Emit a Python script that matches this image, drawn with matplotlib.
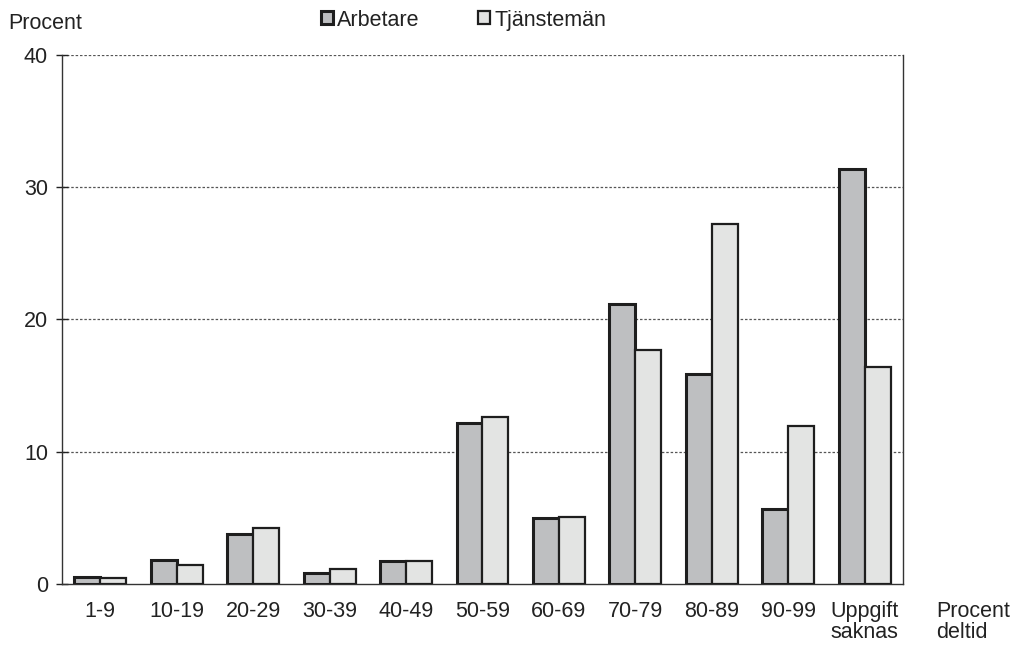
import numpy as np
import matplotlib
matplotlib.use("Agg")
import matplotlib.pyplot as plt

plt.rcParams['font.family'] = ['Liberation Sans', 'DejaVu Sans']

categories = ["1-9", "10-19", "20-29", "30-39", "40-49", "50-59",
              "60-69", "70-79", "80-89", "90-99", "Uppgift\nsaknas"]
arbetare = [0.55, 1.8, 3.8, 0.8, 1.7, 12.2, 5.0, 21.2, 15.9, 5.7, 31.4]
tjansteman = [0.45, 1.4, 4.2, 1.1, 1.7, 12.6, 5.1, 17.7, 27.2, 11.95, 16.4]
yticks = [0, 10, 20, 30, 40]

FS = 15.5
TXT = "#222222"

fig = plt.figure(figsize=(10.11, 6.46), dpi=100)
ax = fig.add_axes([0.0613, 0.096, 0.8319, 0.819])

x = np.arange(len(categories))
w = 0.34
ax.bar(x - w / 2, arbetare, w, color="#bebfc1", edgecolor="#1e1e1e",
       linewidth=2.2, label="Arbetare", zorder=3)
ax.bar(x + w / 2, tjansteman, w, color="#e3e4e3", edgecolor="#1e1e1e",
       linewidth=1.6, label="Tjänstemän", zorder=3)

ax.set_xlim(-0.5, 10.5)
ax.set_ylim(0, 40)
ax.set_yticks(yticks)
ax.set_xticks(x)
ax.set_xticklabels(categories, fontsize=FS, color=TXT, linespacing=1.0)
ax.tick_params(axis="x", length=0, pad=12)
ax.tick_params(axis="y", direction="inout", length=8, width=1, labelsize=FS,
               colors=TXT, pad=6)

for v in yticks[1:]:
    ax.axhline(v, color="#555555", linestyle=(0, (2, 1.5)), linewidth=0.9, zorder=1)

ax.spines["top"].set_visible(False)
for s in ["left", "right", "bottom"]:
    ax.spines[s].set_color("#333333")
    ax.spines[s].set_linewidth(1.0)

fig.text(0.008, 0.963, "Procent", fontsize=FS, color=TXT, va="center")
fig.text(0.926, 0.037, "Procent\ndeltid", fontsize=FS, color=TXT,
         va="center", ha="left", linespacing=1.0)

leg = fig.legend(loc="center", bbox_to_anchor=(0.4585, 0.969), ncol=2, frameon=False,
                 fontsize=FS, handlelength=0.55, handleheight=0.55, handletextpad=0.2,
                 columnspacing=2.7, borderpad=0.1)
for t in leg.get_texts():
    t.set_color(TXT)

fig.savefig("out.png", dpi=100)
